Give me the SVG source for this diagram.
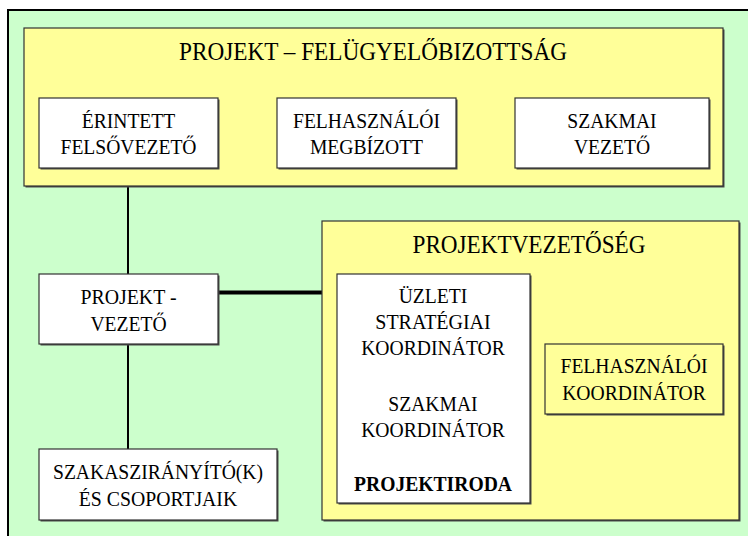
<svg xmlns="http://www.w3.org/2000/svg" width="748" height="536" viewBox="0 0 748 536">
  <style>
    .frame { fill: #CCFFCC; stroke: #000; stroke-width: 2; }
    .panel { fill: #FFFF99; stroke: #333; stroke-width: 1.2; }
    .card { fill: #FFFFFF; stroke: #333; stroke-width: 1.2; }
    .shadow { fill: #4a4a4a; }
    text { font-family: "Times New Roman", Tinos, "Liberation Serif", Times, "Noto Serif", "DejaVu Serif", serif; fill: #000; text-anchor: middle; }
    .lbl { font-size: 22px; }
    .ttl { font-size: 25px; }
    .bold { font-weight: bold; }
    .link { stroke: #000; stroke-width: 2; fill: none; }
    .link-main { stroke: #000; stroke-width: 4; fill: none; }
  </style>

  <rect x="0" y="0" width="748" height="536" fill="#FFFFFF"/>
  <rect class="frame" x="8" y="10" width="746" height="532"/>

  <!-- connectors -->
  <g id="connectors">
    <line class="link" x1="128" y1="168" x2="128" y2="274"/>
    <line class="link" x1="128" y1="344" x2="128" y2="449"/>
    <line class="link-main" x1="218" y1="292.5" x2="322" y2="292.5"/>
  </g>

  <!-- steering board -->
  <g id="felugyelobizottsag">
    <rect class="shadow" x="25.5" y="29.5" width="699" height="158"/>
    <rect class="panel" x="24" y="28" width="699" height="158"/>
    <text class="ttl" x="373" y="60" textLength="388" lengthAdjust="spacingAndGlyphs">PROJEKT – FELÜGYELŐBIZOTTSÁG</text>
  </g>

  <g id="erintett-felsovezeto">
    <rect class="shadow" x="40.5" y="99.5" width="179" height="70"/>
    <rect class="card" x="39" y="98" width="179" height="70"/>
    <text class="lbl" x="128.5" y="127.5" textLength="93.6" lengthAdjust="spacingAndGlyphs">ÉRINTETT</text>
    <text class="lbl" x="128.5" y="153.5" textLength="136" lengthAdjust="spacingAndGlyphs">FELSŐVEZETŐ</text>
  </g>

  <g id="felhasznaloi-megbizott">
    <rect class="shadow" x="278.5" y="99.5" width="179" height="70"/>
    <rect class="card" x="277" y="98" width="179" height="70"/>
    <text class="lbl" x="366.5" y="127.5" textLength="147" lengthAdjust="spacingAndGlyphs">FELHASZNÁLÓI</text>
    <text class="lbl" x="366.5" y="153.5" textLength="113.2" lengthAdjust="spacingAndGlyphs">MEGBÍZOTT</text>
  </g>

  <g id="szakmai-vezeto">
    <rect class="shadow" x="516.5" y="99.5" width="194" height="70"/>
    <rect class="card" x="515" y="98" width="194" height="70"/>
    <text class="lbl" x="612" y="127.5" textLength="89.3" lengthAdjust="spacingAndGlyphs">SZAKMAI</text>
    <text class="lbl" x="612" y="153.5" textLength="76.2" lengthAdjust="spacingAndGlyphs">VEZETŐ</text>
  </g>

  <!-- project manager -->
  <g id="projektvezeto">
    <rect class="shadow" x="40.5" y="275.5" width="179" height="70"/>
    <rect class="card" x="39" y="274" width="179" height="70"/>
    <text class="lbl" x="128.5" y="304" textLength="96" lengthAdjust="spacingAndGlyphs">PROJEKT -</text>
    <text class="lbl" x="128.5" y="330.5" textLength="76.2" lengthAdjust="spacingAndGlyphs">VEZETŐ</text>
  </g>

  <!-- stage managers -->
  <g id="szakasziranyitok">
    <rect class="shadow" x="40.5" y="450.5" width="238" height="71"/>
    <rect class="card" x="39" y="449" width="238" height="71"/>
    <text class="lbl" x="158" y="479" textLength="210" lengthAdjust="spacingAndGlyphs">SZAKASZIRÁNYÍTÓ(K)</text>
    <text class="lbl" x="158" y="505.5" textLength="158.4" lengthAdjust="spacingAndGlyphs">ÉS CSOPORTJAIK</text>
  </g>

  <!-- project management -->
  <g id="projektvezetoseg">
    <rect class="shadow" x="323.5" y="222.5" width="417" height="299"/>
    <rect class="panel" x="322" y="221" width="417" height="299"/>
    <text class="ttl" x="529" y="253" textLength="233" lengthAdjust="spacingAndGlyphs">PROJEKTVEZETŐSÉG</text>
  </g>

  <g id="projektiroda">
    <rect class="shadow" x="338.5" y="275.5" width="193" height="229"/>
    <rect class="card" x="337" y="274" width="193" height="229"/>
    <text class="lbl" x="433" y="303" textLength="68.6" lengthAdjust="spacingAndGlyphs">ÜZLETI</text>
    <text class="lbl" x="433" y="329" textLength="115.4" lengthAdjust="spacingAndGlyphs">STRATÉGIAI</text>
    <text class="lbl" x="433" y="355" textLength="143.7" lengthAdjust="spacingAndGlyphs">KOORDINÁTOR</text>
    <text class="lbl" x="433" y="411" textLength="89.3" lengthAdjust="spacingAndGlyphs">SZAKMAI</text>
    <text class="lbl" x="433" y="437" textLength="143.7" lengthAdjust="spacingAndGlyphs">KOORDINÁTOR</text>
    <text class="lbl bold" x="433" y="491" textLength="158" lengthAdjust="spacingAndGlyphs">PROJEKTIRODA</text>
  </g>

  <g id="felhasznaloi-koordinator">
    <rect class="shadow" x="546.5" y="345.5" width="178" height="70"/>
    <rect class="panel" x="545" y="344" width="178" height="70"/>
    <text class="lbl" x="634" y="373" textLength="147" lengthAdjust="spacingAndGlyphs">FELHASZNÁLÓI</text>
    <text class="lbl" x="634" y="399.5" textLength="143.7" lengthAdjust="spacingAndGlyphs">KOORDINÁTOR</text>
  </g>
</svg>
